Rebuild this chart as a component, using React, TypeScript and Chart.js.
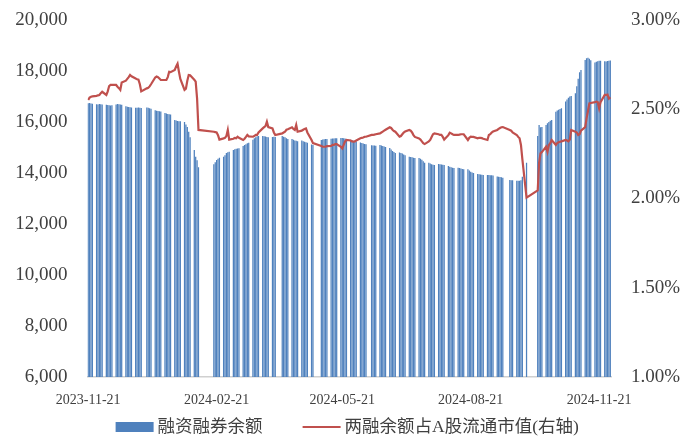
import { useEffect, useRef } from 'react';
import { Chart, registerables } from 'chart.js';

Chart.register(...registerables);

// ---------- data ----------
const START_DATE = '2023-11-21';
const END_DATE = '2024-11-29';
// exchange closures on weekdays (A-share market)
const HOLIDAYS = [
  '2024-01-01',
  '2024-02-09', '2024-02-12', '2024-02-13', '2024-02-14', '2024-02-15', '2024-02-16',
  '2024-04-04', '2024-04-05',
  '2024-05-01', '2024-05-02', '2024-05-03',
  '2024-06-10',
  '2024-09-16', '2024-09-17',
  '2024-10-01', '2024-10-02', '2024-10-03', '2024-10-04', '2024-10-07',
];
const TICK_LABELS = ['2023-11-21', '2024-02-21', '2024-05-21', '2024-08-21', '2024-11-21'];

const BAR_LABEL = '融资融券余额';
const LINE_LABEL = '两融余额占A股流通市值(右轴)';

// 融资融券余额 (亿元), one value per trading day, one row per week
const BALANCE = [
  16740, 16750, 16730, 16720,
  16700, 16690, 16710, 16700, 16690,
  16680, 16670, 16660, 16650, 16660,
  16690, 16710, 16700, 16690, 16680,
  16620, 16600, 16590, 16580, 16570,
  16560, 16560, 16570, 16560, 16550,
  16570, 16560, 16540, 16520,
  16460, 16440, 16430, 16420, 16410,
  16350, 16330, 16310, 16300, 16290,
  16080, 16060, 16040, 16030, 16030,
  16000, 15900, 15800, 15620, 15400,
  14900, 14640, 14500, 14230,
  14340, 14420, 14510, 14560, 14600,
  14640, 14700, 14780, 14810, 14835,
  14900, 14930, 14950, 14960, 14970,
  15060, 15100, 15130, 15170, 15190,
  15300, 15360, 15400, 15440, 15450,
  15450, 15440, 15430, 15410, 15400,
  15410, 15420, 15410,
  15450, 15420, 15400, 15360, 15330,
  15330, 15300, 15270, 15260, 15250,
  15270, 15250, 15230, 15210, 15190,
  15120, 15100,
  15290, 15310, 15320, 15330, 15330,
  15340, 15350, 15350, 15360, 15360,
  15370, 15370, 15360, 15350, 15330,
  15300, 15280, 15260, 15250, 15240,
  15200, 15180, 15160, 15140, 15130,
  15090, 15080, 15080, 15070,
  15100, 15080, 15060, 15040, 15020,
  14980, 14920, 14860, 14820, 14780,
  14800, 14780, 14760, 14730, 14700,
  14640, 14630, 14620, 14600, 14590,
  14590, 14560, 14520, 14460, 14400,
  14400, 14370, 14340, 14320, 14310,
  14350, 14340, 14330, 14320, 14310,
  14270, 14250, 14230, 14210, 14200,
  14210, 14200, 14180, 14160, 14150,
  14150, 14100, 14050, 14020, 14000,
  13960, 13950, 13940, 13930, 13920,
  13920, 13920, 13910, 13910, 13900,
  13860, 13850, 13840, 13830, 13810,
  13730, 13720, 13720,
  13700, 13700, 13700, 13720, 13850,
  14400,
  15450, 15880, 15790, 15800,
  15880, 15950, 16000, 16050, 16080,
  16400, 16450, 16480, 16510, 16535,
  16800, 16880, 16950, 17000, 17020,
  17125, 17400, 17700, 17950, 18040,
  18430, 18500, 18520, 18480, 18420,
  18330, 18360, 18380, 18400, 18400,
  18380, 18370, 18390, 18400, 18410,
];

// 两融余额占A股流通市值 (%), one value per trading day
const RATIO = [
  2.552, 2.565, 2.570, 2.572,
  2.575, 2.578, 2.580, 2.590, 2.598,
  2.580, 2.600, 2.630, 2.636, 2.636,
  2.636, 2.626, 2.618, 2.608, 2.650,
  2.660, 2.670, 2.680, 2.692, 2.685,
  2.672, 2.668, 2.666, 2.640, 2.600,
  2.617, 2.620, 2.628, 2.640,
  2.678, 2.683, 2.680, 2.672, 2.664,
  2.664, 2.664, 2.680, 2.710, 2.708,
  2.720, 2.740, 2.755, 2.710, 2.670,
  2.608, 2.615, 2.660, 2.692, 2.690,
  2.665, 2.655, 2.560, 2.384,
  2.374, 2.372, 2.370, 2.355, 2.330,
  2.337, 2.340, 2.350, 2.384, 2.330,
  2.335, 2.340, 2.338, 2.346, 2.340,
  2.328, 2.335, 2.345, 2.356, 2.348,
  2.346, 2.350, 2.356, 2.356, 2.370,
  2.393, 2.400, 2.406, 2.430, 2.400,
  2.393, 2.370, 2.356,
  2.365, 2.370, 2.375, 2.385, 2.388,
  2.399, 2.390, 2.384, 2.412, 2.374,
  2.380, 2.385, 2.390, 2.393, 2.370,
  2.328, 2.310,
  2.294, 2.290, 2.290, 2.290, 2.293,
  2.294, 2.300, 2.300, 2.305, 2.305,
  2.290, 2.281, 2.300, 2.320, 2.328,
  2.325, 2.320, 2.318, 2.320, 2.325,
  2.337, 2.340, 2.342, 2.346, 2.346,
  2.356, 2.356, 2.358, 2.360,
  2.365, 2.370, 2.375, 2.380, 2.385,
  2.399, 2.395, 2.385, 2.378, 2.374,
  2.346, 2.350, 2.360, 2.370, 2.375,
  2.384, 2.380, 2.370, 2.355, 2.345,
  2.337, 2.330, 2.320, 2.310, 2.305,
  2.320, 2.328, 2.345, 2.360, 2.365,
  2.360, 2.356, 2.356, 2.345, 2.330,
  2.355, 2.369, 2.365, 2.360, 2.356,
  2.356, 2.358, 2.360, 2.360, 2.360,
  2.328, 2.340, 2.346, 2.345, 2.345,
  2.337, 2.340, 2.340, 2.338, 2.335,
  2.328, 2.356, 2.360, 2.370, 2.375,
  2.384, 2.390, 2.395, 2.399, 2.400,
  2.384, 2.380, 2.370,
  2.356, 2.345, 2.337, 2.300, 2.220,
  2.005,
  2.045, 2.200, 2.253, 2.260,
  2.290, 2.262, 2.300, 2.310, 2.328,
  2.300, 2.310, 2.315, 2.318, 2.320,
  2.328, 2.325, 2.320, 2.330, 2.384,
  2.374, 2.370, 2.356, 2.360, 2.380,
  2.400, 2.449, 2.490, 2.533, 2.535,
  2.540, 2.542, 2.540, 2.505, 2.540,
  2.580, 2.580, 2.582, 2.560, 2.567,
];

// ---------- styling ----------
const BAR_COLOR = '#4F81BD';
const LINE_COLOR = '#C0504D';
const TEXT_COLOR = '#404040';
const FONT_FAMILY = "'Liberation Serif', 'Noto Sans CJK SC', serif";

// ---------- helpers ----------
const DAY_MS = 86400000;
function toUTC(s: string): number {
  const [y, m, d] = s.split('-').map(Number);
  return Date.UTC(y, m - 1, d);
}
function dayIndex(s: string): number {
  return Math.round((toUTC(s) - toUTC(START_DATE)) / DAY_MS);
}
function tradingDayIndices(): number[] {
  const holidaySet = new Set(HOLIDAYS.map(dayIndex));
  const last = dayIndex(END_DATE);
  const out: number[] = [];
  const startDow = new Date(toUTC(START_DATE)).getUTCDay();
  for (let d = 0; d <= last; d++) {
    const dow = (startDow + d) % 7;
    if (dow === 0 || dow === 6) continue;
    if (holidaySet.has(d)) continue;
    out.push(d);
  }
  return out;
}

const legendPlugin = {
  id: 'bottomLegend',
  afterDraw(chart: any) {
    const ctx = chart.ctx as CanvasRenderingContext2D;
    ctx.save();
    ctx.font = `17.5px ${FONT_FAMILY}`;
    const sw = 38;
    const gap = 4;
    const spacing = 40;
    const w1 = ctx.measureText(BAR_LABEL).width;
    const w2 = ctx.measureText(LINE_LABEL).width;
    const total = sw + gap + w1 + spacing + sw + gap + w2;
    const cx = (chart.chartArea.left + chart.chartArea.right) / 2 - 2;
    let x = cx - total / 2;
    const y = chart.height - 12;
    ctx.fillStyle = BAR_COLOR;
    ctx.fillRect(x, y - 5, sw, 10);
    ctx.fillStyle = TEXT_COLOR;
    ctx.textBaseline = 'middle';
    ctx.textAlign = 'left';
    ctx.fillText(BAR_LABEL, x + sw + gap, y);
    x += sw + gap + w1 + spacing;
    ctx.strokeStyle = LINE_COLOR;
    ctx.lineWidth = 2;
    ctx.beginPath();
    ctx.moveTo(x, y);
    ctx.lineTo(x + sw, y);
    ctx.stroke();
    ctx.fillText(LINE_LABEL, x + sw + gap, y);
    ctx.restore();
  },
};

export default function App() {
  const ref = useRef<HTMLCanvasElement>(null);

  useEffect(() => {
    const canvas = ref.current;
    if (!canvas) return;
    const days = tradingDayIndices();
    const n = Math.min(days.length, BALANCE.length, RATIO.length);
    const barData = [];
    const lineData = [];
    for (let i = 0; i < n; i++) {
      barData.push({ x: days[i], y: BALANCE[i] });
      lineData.push({ x: days[i], y: RATIO[i] });
    }
    const lastDay = dayIndex(END_DATE);
    const tickDays = TICK_LABELS.map(dayIndex);
    const labelMap = new Map<number, string>();
    TICK_LABELS.forEach((l) => labelMap.set(dayIndex(l), l));

    Chart.defaults.font.family = FONT_FAMILY;
    Chart.defaults.color = TEXT_COLOR;

    const noPad = (s: any) => {
      s.paddingTop = 0;
      s.paddingBottom = 0;
      s.paddingLeft = 0;
      s.paddingRight = 0;
    };

    const chart = new Chart(canvas, {
      type: 'bar',
      data: {
        datasets: [
          {
            type: 'line',
            label: LINE_LABEL,
            data: lineData,
            yAxisID: 'y1',
            borderColor: LINE_COLOR,
            backgroundColor: LINE_COLOR,
            borderWidth: 2.2,
            pointRadius: 0,
            tension: 0,
            order: 0,
          } as any,
          {
            type: 'bar',
            label: BAR_LABEL,
            data: barData,
            yAxisID: 'y',
            backgroundColor: BAR_COLOR,
            barPercentage: 0.9,
            categoryPercentage: 1,
            order: 1,
          } as any,
        ],
      },
      options: {
        animation: false,
        responsive: false,
        layout: { padding: { left: 0, right: 0, top: 20, bottom: 22 } },
        plugins: { legend: { display: false }, tooltip: { enabled: false } },
        scales: {
          x: {
            type: 'linear',
            offset: false,
            min: -0.5,
            max: lastDay + 0.5,
            grid: { display: false, drawTicks: false, offset: false },
            border: { display: true, color: '#D0D0D0', width: 1.5 },
            afterBuildTicks: (s: any) => {
              s.ticks = tickDays.map((v) => ({ value: v }));
            },
            afterFit: (s: any) => {
              s.height = 40;
              noPad(s);
            },
            ticks: {
              autoSkip: false,
              maxRotation: 0,
              minRotation: 0,
              padding: 15,
              font: { size: 14 },
              color: TEXT_COLOR,
              callback: (v: any) => labelMap.get(Number(v)) ?? '',
            },
          },
          y: {
            position: 'left',
            min: 6000,
            max: 20000,
            grid: { display: false, drawTicks: false },
            border: { display: false },
            afterFit: (s: any) => {
              s.width = 87.5;
              noPad(s);
            },
            ticks: {
              stepSize: 2000,
              padding: 20,
              font: { size: 19 },
              color: TEXT_COLOR,
              callback: (v: any) => Number(v).toLocaleString('en-US'),
            },
          },
          y1: {
            position: 'right',
            min: 1,
            max: 3,
            grid: { display: false, drawTicks: false },
            border: { display: false },
            afterFit: (s: any) => {
              s.width = 69;
              noPad(s);
            },
            ticks: {
              stepSize: 0.5,
              padding: 20,
              font: { size: 19 },
              color: TEXT_COLOR,
              callback: (v: any) => Number(v).toFixed(2) + '%',
            },
          },
        },
      } as any,
      plugins: [legendPlugin],
    });
    return () => chart.destroy();
  }, []);

  return (
    <div style={{ position: 'absolute', left: 0, top: 0, width: 680, height: 439, background: '#fff' }}>
      <canvas ref={ref} width={680} height={439} style={{ display: 'block' }} />
    </div>
  );
}
